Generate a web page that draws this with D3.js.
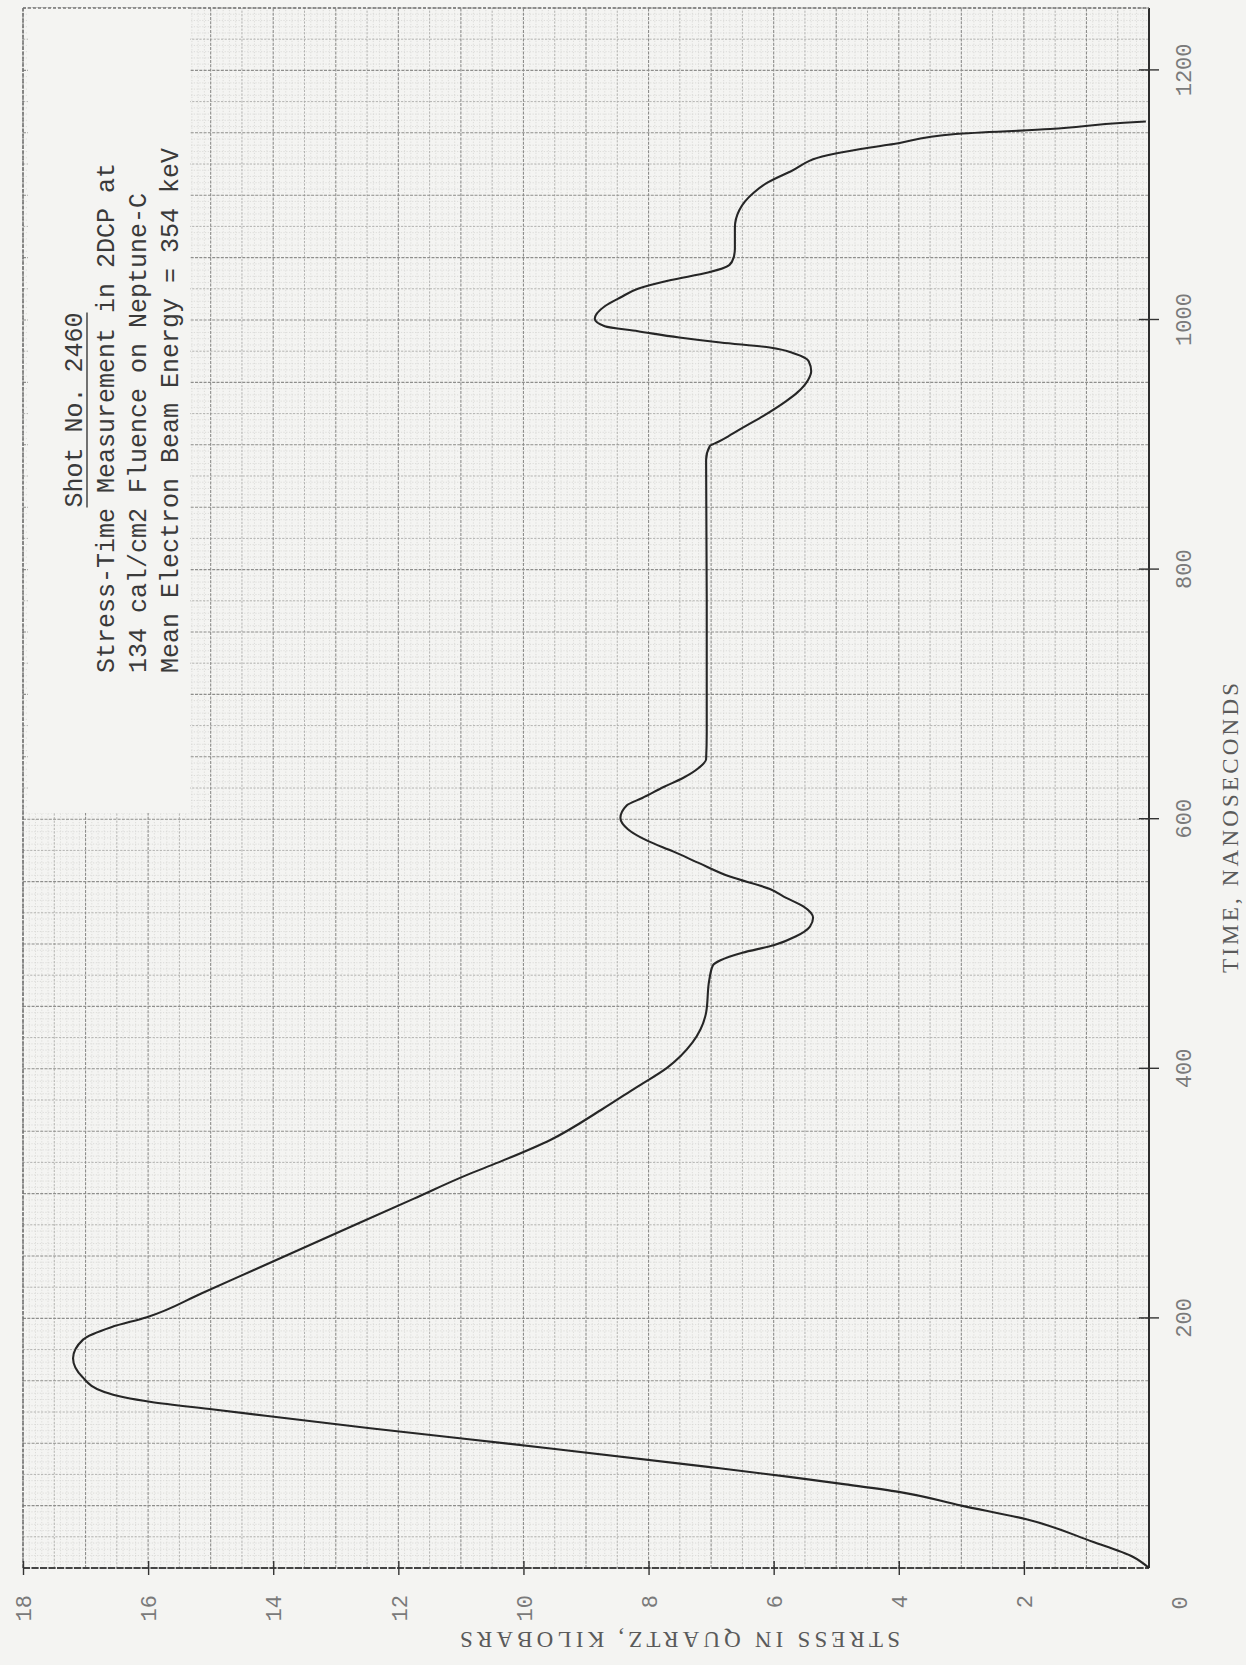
<!DOCTYPE html>
<html>
<head>
<meta charset="utf-8">
<script src="https://cdn.jsdelivr.net/npm/d3@7"></script>
<style>
  html, body { margin: 0; padding: 0; background: #f4f4f2; }
  svg { display: block; }
</style>
</head>
<body>
<svg id="chart" width="1246" height="1665"></svg>
<script>
// Stress-time record for Shot No. 2460 (quartz gauge), drawn on graph paper
// and laid out in landscape: time runs up the page, stress runs right to left.

const timeNs = [
  0, 9, 21, 39, 50, 61, 67, 73, 81, 96, 112, 127, 133, 141, 153, 168,
  183, 193, 201, 220, 239, 258, 277, 296, 315, 325, 343, 367, 385, 401, 421, 445, 471, 483,
  487, 493, 499, 506, 514, 521, 530, 537, 544, 554, 565, 574, 583, 592, 601, 611, 617, 626,
  633, 641, 648, 669, 776, 888, 899, 902, 907, 915, 923, 935, 942, 952, 959, 967, 973, 978,
  982, 986, 991, 995, 1001, 1011, 1018, 1025, 1032, 1038, 1044, 1050, 1057, 1074, 1088, 1102,
  1110, 1119, 1132, 1137, 1141, 1149, 1153, 1158, 1159
];
const stressKbar = [
  0, 0.26, 0.9, 1.96, 3.0, 4.0, 4.85, 5.75, 7.05, 9.6, 12.45, 14.95, 15.95, 16.7, 17.05, 17.2,
  17.04, 16.59, 16.02, 15.15, 14.3, 13.45, 12.6, 11.75, 10.9, 10.4, 9.57, 8.76, 8.2, 7.7, 7.3, 7.08, 7.03, 6.97,
  6.85, 6.5, 6.0, 5.65, 5.42, 5.37, 5.52, 5.8, 6.06, 6.7, 7.2, 7.6, 8.03, 8.33, 8.45, 8.35, 8.1, 7.75,
  7.45, 7.2, 7.08, 7.07, 7.07, 7.08, 7.02, 6.9, 6.72, 6.45, 6.17, 5.8, 5.62, 5.45, 5.4, 5.44, 5.66, 6.06,
  6.85, 7.51, 8.17, 8.7, 8.86, 8.7, 8.45, 8.17, 7.64, 7.05, 6.71, 6.64, 6.62, 6.62, 6.55, 6.32,
  6.1, 5.73, 5.14, 4.61, 4.08, 3.09, 1.58, 0.4, 0.05
];

const timeTicks = [200, 400, 600, 800, 1000, 1200];
const stressTicks = [2, 4, 6, 8, 10, 12, 14, 16, 18];

const titleHeading = "Shot No. 2460";
const titleLines = [
  "Stress-Time Measurement in 2DCP at",
  "134 cal/cm2 Fluence on Neptune-C",
  "Mean Electron Beam Energy = 354 keV"
];
const xAxisTitle = "TIME, NANOSECONDS";
const yAxisTitle = "STRESS IN QUARTZ, KILOBARS";

// ---- layout (local frame is an ordinary time/stress chart, turned a quarter turn) ----
const OX = 23, OY = 1568;     // page position of the chart origin's corner
const W = 1560, H = 1126;      // time length, stress length (local px)
const x = d3.scaleLinear().domain([0, 1250]).range([0, W]);
const y = d3.scaleLinear().domain([0, 18]).range([H, 0]);

const svg = d3.select("#chart");
svg.append("rect").attr("width", 1246).attr("height", 1665).attr("fill", "#f4f4f2");

const g = svg.append("g").attr("transform", `translate(${OX},${OY}) rotate(-90)`);

// ---- graph-paper rulings ----
const weight = i => (i % 10 === 0 ? 2 : i % 5 === 0 ? 1 : 0);
const timeRules = d3.range(0, 251).map(i => ({ v: i * 5, w: weight(i) }));
const stressRules = d3.range(0, 181).map(i => ({ v: i / 10, w: weight(i) }));
const ruleStyle = [
  { stroke: "#d2d2d0", width: 0.7, dash: "1.2,1.6" },
  { stroke: "#ababa9", width: 0.9, dash: "2.2,1.4" },
  { stroke: "#8e8e8c", width: 1.1, dash: "3,1.3" }
];

const grid = g.append("g").attr("class", "grid");
[0, 1, 2].forEach(level => {
  const st = ruleStyle[level];
  grid.append("g").selectAll("line")
    .data(timeRules.filter(d => d.w === level))
    .join("line")
    .attr("x1", d => x(d.v)).attr("x2", d => x(d.v))
    .attr("y1", 0).attr("y2", H)
    .attr("stroke", st.stroke).attr("stroke-width", st.width)
    .attr("stroke-dasharray", st.dash);
  grid.append("g").selectAll("line")
    .data(stressRules.filter(d => d.w === level))
    .join("line")
    .attr("y1", d => y(d.v)).attr("y2", d => y(d.v))
    .attr("x1", 0).attr("x2", W)
    .attr("stroke", st.stroke).attr("stroke-width", st.width)
    .attr("stroke-dasharray", st.dash);
});

// blank panel that carries the typed caption
const panelFrom = x(605);
g.append("rect")
  .attr("x", panelFrom).attr("y", 5)
  .attr("width", W - panelFrom).attr("height", 162)
  .attr("fill", "#f4f4f2");

// ---- frame ----
const frame = g.append("g").attr("fill", "none");
frame.append("line").attr("x1", 0).attr("x2", W).attr("y1", H).attr("y2", H)
  .attr("stroke", "#2e2e2e").attr("stroke-width", 2);
frame.append("line").attr("x1", 0).attr("x2", 0).attr("y1", 0).attr("y2", H)
  .attr("stroke", "#444").attr("stroke-width", 2).attr("stroke-dasharray", "7,1.5");
frame.append("line").attr("x1", W).attr("x2", W).attr("y1", 0).attr("y2", H)
  .attr("stroke", "#777").attr("stroke-width", 1.3).attr("stroke-dasharray", "3,2");
frame.append("line").attr("x1", 0).attr("x2", W).attr("y1", 0).attr("y2", 0)
  .attr("stroke", "#6d6d6d").attr("stroke-width", 1.4).attr("stroke-dasharray", "4,1.5");

// ---- axes ----
const labelFont = sel => sel
  .attr("font-family", "'Liberation Mono', monospace")
  .attr("font-size", 22)
  .attr("fill", "#7a7a7a");

const xAxis = g.append("g").attr("transform", `translate(0,${H})`)
  .call(d3.axisBottom(x).tickValues(timeTicks).tickSize(10).tickSizeOuter(0).tickFormat(d3.format("d")));
xAxis.select(".domain").remove();
xAxis.selectAll(".tick line").attr("y1", -10).attr("y2", 10).attr("stroke", "#333").attr("stroke-width", 1.4);
xAxis.selectAll(".tick text").attr("y", 42).attr("dy", null).call(labelFont);

const yAxis = g.append("g")
  .call(d3.axisLeft(y).tickValues(stressTicks).tickSize(7).tickSizeOuter(0).tickFormat(d3.format("d")));
yAxis.select(".domain").remove();
yAxis.selectAll(".tick line").attr("x1", -7).attr("x2", 7).attr("stroke", "#333").attr("stroke-width", 1.4);
yAxis.selectAll(".tick text").attr("x", -27).attr("dy", "0.35em").call(labelFont);

// shared origin label
g.append("text")
  .attr("x", x(0) - 35).attr("y", y(0) + 38)
  .attr("text-anchor", "middle")
  .call(labelFont)
  .text("0");

// axis titles
g.append("text")
  .attr("x", 740).attr("y", H + 89)
  .attr("text-anchor", "middle")
  .attr("textLength", 290).attr("lengthAdjust", "spacing")
  .attr("font-family", "'Liberation Serif', serif").attr("font-size", 23).attr("fill", "#5a5a5a")
  .text(xAxisTitle);

g.append("text")
  .attr("transform", `translate(-64,657) rotate(-90)`)
  .attr("text-anchor", "middle")
  .attr("textLength", 440).attr("lengthAdjust", "spacing")
  .attr("font-family", "'Liberation Serif', serif").attr("font-size", 23).attr("fill", "#5a5a5a")
  .text(yAxisTitle);

// ---- stress trace ----
const trace = timeNs.map((t, i) => [t, stressKbar[i]]);
g.append("path")
  .datum(trace)
  .attr("fill", "none")
  .attr("stroke", "#262626")
  .attr("stroke-width", 2.1)
  .attr("stroke-linejoin", "round")
  .attr("d", d3.line().x(d => x(d[0])).y(d => y(d[1])).curve(d3.curveMonotoneX));

// ---- typed caption ----
const caption = g.append("g")
  .attr("font-family", "'Liberation Mono', monospace")
  .attr("font-size", 25)
  .attr("fill", "#3a3a3a");

const heading = caption.append("text")
  .attr("x", 1158).attr("y", 59)
  .attr("text-anchor", "middle")
  .text(titleHeading);
const hw = heading.node().getComputedTextLength();
caption.append("line")
  .attr("x1", 1158 - hw / 2).attr("x2", 1158 + hw / 2)
  .attr("y1", 64).attr("y2", 64)
  .attr("stroke", "#3a3a3a").attr("stroke-width", 1.4);

caption.selectAll("text.line")
  .data(titleLines)
  .join("text")
  .attr("class", "line")
  .attr("x", 895)
  .attr("y", (d, i) => 91 + i * 32)
  .text(d => d);
</script>
</body>
</html>
